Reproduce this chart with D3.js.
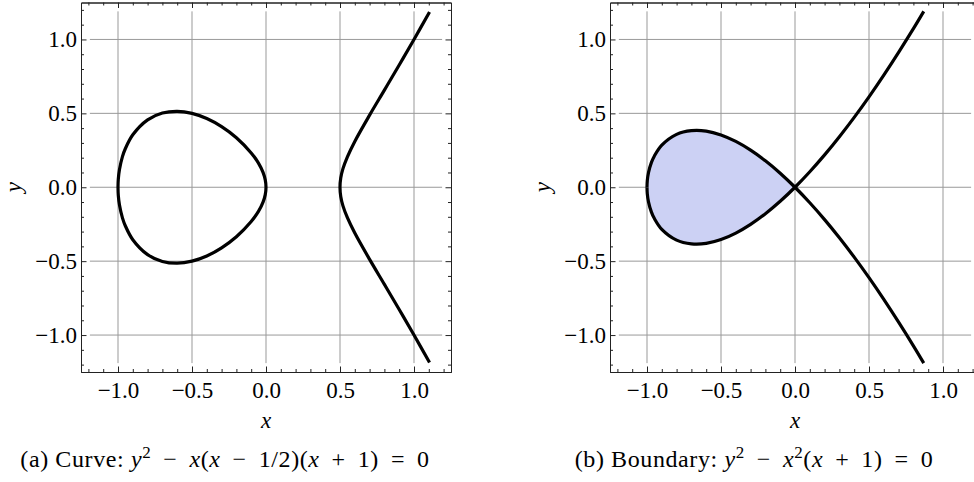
<!DOCTYPE html>
<html>
<head>
<meta charset="utf-8">
<style>
body { margin: 0; background: #fff; }
svg { display: block; font-family: "Liberation Serif", "Times New Roman", serif; }
</style>
</head>
<body>
<svg width="974" height="482"></svg>
<script src="https://d3js.org/d3.v7.min.js"></script>
<script>
var svg = d3.select("svg"),
    width = +svg.attr("width"),
    height = +svg.attr("height");

// tick values shared by both panels
var majorTicks = [-1, -0.5, 0, 0.5, 1];
var minorTicks = [-1.2, -1.1, -0.9, -0.8, -0.7, -0.6, -0.4, -0.3, -0.2, -0.1,
                  0.1, 0.2, 0.3, 0.4, 0.6, 0.7, 0.8, 0.9, 1.1, 1.2];

// (a) upper half of the oval, read left to right
var ovalA = [[-1, 0], [-0.998, 0.055], [-0.99, 0.12], [-0.97, 0.207], [-0.95, 0.262],
             [-0.9, 0.355], [-0.8, 0.456], [-0.7, 0.502], [-0.6, 0.514], [-0.5, 0.5],
             [-0.4, 0.465], [-0.3, 0.41], [-0.2, 0.335], [-0.1, 0.232], [-0.05, 0.162],
             [-0.02, 0.101], [-0.005, 0.05], [0, 0]];
// (a) upper half of the right branch
var branchA = [[0.5, 0], [0.505, 0.062], [0.52, 0.126], [0.55, 0.206], [0.6, 0.31],
               [0.7, 0.488], [0.8, 0.657], [0.9, 0.827], [1.0, 1.0], [1.105, 1.186]];

// (b) upper half of the loop
var loopB = [[-1, 0], [-0.998, 0.045], [-0.99, 0.099], [-0.97, 0.168], [-0.95, 0.212],
             [-0.9, 0.285], [-0.8, 0.358], [-0.7, 0.383], [-0.6, 0.38], [-0.5, 0.354],
             [-0.4, 0.31], [-0.3, 0.251], [-0.2, 0.179], [-0.1, 0.095], [0, 0]];
// (b) upper half of the branch through the node
var branchB = [[0, 0], [0.1, 0.105], [0.2, 0.219], [0.3, 0.342], [0.4, 0.473],
               [0.5, 0.612], [0.6, 0.759], [0.7, 0.913], [0.8, 1.073], [0.87, 1.19]];

var domain = [-1.25, 1.25],
    gridMax = 1.19;

function mirror(pts) {
  return pts.map(function(p) { return [p[0], -p[1]]; });
}

function drawPanel(opts) {
  var x = d3.scaleLinear().domain(domain).range([opts.left, opts.left + 370]);
  var y = d3.scaleLinear().domain(domain).range([372, 2.5]);
  var g = svg.append("g");

  // grid
  var grid = g.append("g").attr("stroke", "#999").attr("stroke-width", 1);
  grid.selectAll(".vg").data(majorTicks).enter().append("line")
      .attr("x1", function(d) { return x(d); }).attr("x2", function(d) { return x(d); })
      .attr("y1", y(gridMax)).attr("y2", y(-gridMax));
  grid.selectAll(".hg").data(majorTicks).enter().append("line")
      .attr("y1", function(d) { return y(d); }).attr("y2", function(d) { return y(d); })
      .attr("x1", x(-gridMax)).attr("x2", x(gridMax));

  var line = d3.line()
      .x(function(d) { return x(d[0]); })
      .y(function(d) { return y(d[1]); })
      .curve(d3.curveCatmullRom.alpha(0.5));

  opts.curves(g, line);

  // frame: axes with inward ticks
  var fmt = d3.format(".1f");
  function frame(axisFn, scale, pos, labels) {
    var major = axisFn(scale).tickValues(majorTicks).tickSizeInner(-5.5).tickSizeOuter(0)
        .tickPadding(labels ? (axisFn === d3.axisBottom ? 10 : 4) : 0)
        .tickFormat(labels ? fmt : "");
    var minor = axisFn(scale).tickValues(minorTicks).tickSizeInner(-3).tickSizeOuter(0)
        .tickFormat("");
    var a = g.append("g").attr("transform", pos).call(major);
    g.append("g").attr("transform", pos).call(minor);
    a.attr("font-family", null).attr("font-size", 23);
    return a;
  }
  frame(d3.axisBottom, x, "translate(0,372)", true);
  frame(d3.axisTop, x, "translate(0,2.5)", false);
  frame(d3.axisLeft, y, "translate(" + opts.left + ",0)", true);
  frame(d3.axisRight, y, "translate(" + (opts.left + 370) + ",0)", false);
  g.selectAll(".domain, .tick line").attr("stroke", "#222");

  g.append("text")
      .attr("x", x(0)).attr("y", 428)
      .attr("text-anchor", "middle")
      .attr("font-size", 23).attr("font-style", "italic")
      .text("x");
  g.append("text")
      .attr("transform", "translate(" + (opts.left - 60) + "," + y(0) + ") rotate(-90)")
      .attr("text-anchor", "middle")
      .attr("font-size", 23).attr("font-style", "italic")
      .text("y");

  // caption
  var cap = g.append("text")
      .attr("x", opts.capX).attr("y", 467)
      .attr("text-anchor", "middle")
      .attr("font-size", 24)
      .attr("letter-spacing", 0.6);
  opts.caption.forEach(function(part) {
    var t = cap.append("tspan").text(part.t);
    if (part.i) t.attr("font-style", "italic");
    if (part.sup) t.attr("font-size", 17).attr("dy", -9);
    if (part.after) t.attr("dy", 9);
  });
}

// operator with a little extra math spacing
function op(s) { return " \u2009" + s + "\u2009 "; }

drawPanel({
  left: 81,
  capX: 225,
  curves: function(g, line) {
    var c = g.append("g").attr("fill", "none").attr("stroke", "#000")
        .attr("stroke-width", 3.2).attr("stroke-linejoin", "round");
    c.append("path").attr("d", line(ovalA.concat(mirror(ovalA).reverse().slice(1))));
    c.append("path").attr("d", line(mirror(branchA).reverse().concat(branchA.slice(1))));
  },
  caption: [{t: "(a) Curve: "}, {t: "y", i: true}, {t: "2", sup: true},
            {t: op("\u2212"), after: true}, {t: "x", i: true}, {t: "("}, {t: "x", i: true},
            {t: op("\u2212") + "1/2)("}, {t: "x", i: true},
            {t: op("+") + "1)" + op("=") + "0"}]
});

drawPanel({
  left: 610,
  capX: 754,
  curves: function(g, line) {
    var loop = loopB.concat(mirror(loopB).reverse().slice(1));
    g.append("path").attr("d", line(loop) + "Z").attr("fill", "#ccd1f4").attr("stroke", "none");
    var c = g.append("g").attr("fill", "none").attr("stroke", "#000")
        .attr("stroke-width", 3.2).attr("stroke-linejoin", "round");
    c.append("path").attr("d", line(mirror(branchB).reverse().concat(loopB.slice().reverse().slice(1))));
    c.append("path").attr("d", line(mirror(loopB).concat(branchB.slice(1))));
  },
  caption: [{t: "(b) Boundary: "}, {t: "y", i: true}, {t: "2", sup: true},
            {t: op("\u2212"), after: true}, {t: "x", i: true}, {t: "2", sup: true},
            {t: "(", after: true}, {t: "x", i: true},
            {t: op("+") + "1)" + op("=") + "0"}]
});
</script>
</body>
</html>
